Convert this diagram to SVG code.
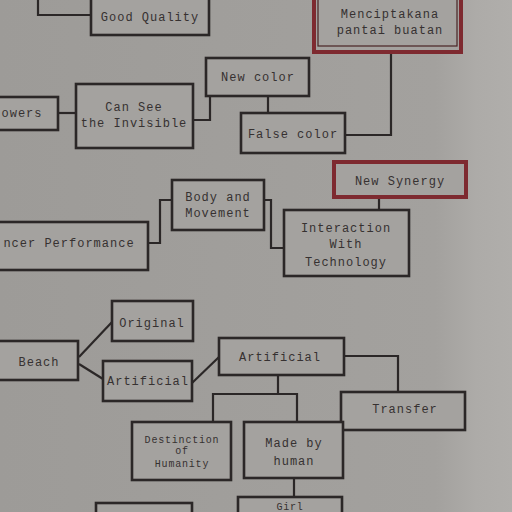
<svg xmlns="http://www.w3.org/2000/svg" width="512" height="512" viewBox="0 0 512 512">
<defs>
<linearGradient id="bg" x1="0" y1="0" x2="1" y2="0">
<stop offset="0" stop-color="#9d9b98"/>
<stop offset="0.85" stop-color="#a3a19e"/>
<stop offset="0.93" stop-color="#adaba8"/>
<stop offset="1" stop-color="#b0aeab"/>
</linearGradient>
<style>
.box{fill:#a4a29f;stroke:#2b2727;stroke-width:2.6}
.red{fill:#a4a29f;stroke:#7e2a30;stroke-width:4}
.redin{fill:none;stroke:#4a2325;stroke-width:1.2}
.t{font-family:"Liberation Mono","DejaVu Sans Mono",monospace;font-size:12px;letter-spacing:1px;fill:#363131;text-anchor:middle}
.s{font-size:10px;letter-spacing:0.8px}
.c{fill:none;stroke:#2b2727;stroke-width:2.2}
</style>
</defs>
<rect width="512" height="512" fill="url(#bg)"/>
<g id="connectors">
<path class="c" d="M38,0 V15 H91"/>
<path class="c" d="M58,113 H76"/>
<path class="c" d="M193,120 H210 V96"/>
<path class="c" d="M268,96 V113"/>
<path class="c" d="M391,52 V135 H345"/>
<path class="c" d="M379,197 V210"/>
<path class="c" d="M264,200 H271 V248 H284"/>
<path class="c" d="M148,243 H160 V200 H172"/>
<path class="c" d="M79,357 L112,322"/>
<path class="c" d="M79,364 L103,379"/>
<path class="c" d="M192,383 L219,357"/>
<path class="c" d="M344,356 H398 V392"/>
<path class="c" d="M278,375 V394 M213,422 V394 H297 V422"/>
<path class="c" d="M294,478 V497"/>
</g>
<g id="n-good-quality"><rect class="box" x="91" y="-4" width="118" height="39"/><text class="t" x="150" y="21">Good Quality</text></g>
<g id="n-menciptakana"><rect class="red" x="314" y="-6" width="147" height="58"/><rect class="redin" x="318" y="-4" width="139" height="50"/><text class="t" x="390" y="18">Menciptakana</text><text class="t" x="390" y="34">pantai buatan</text></g>
<g id="n-new-color"><rect class="box" x="206" y="58" width="103" height="38"/><text class="t" x="258" y="81">New color</text></g>
<g id="n-powers"><rect class="box" x="-6" y="97" width="64" height="33"/><text class="t" x="22" y="117">owers</text></g>
<g id="n-can-see"><rect class="box" x="76" y="84" width="117" height="64"/><text class="t" x="134" y="111">Can See</text><text class="t" x="134" y="127">the Invisible</text></g>
<g id="n-false-color"><rect class="box" x="241" y="113" width="104" height="40"/><text class="t" x="293" y="138">False color</text></g>
<g id="n-new-synergy"><rect class="red" x="334" y="162" width="132" height="35"/><text class="t" x="400" y="185">New Synergy</text></g>
<g id="n-body"><rect class="box" x="172" y="180" width="92" height="50"/><text class="t" x="218" y="201">Body and</text><text class="t" x="218" y="217">Movement</text></g>
<g id="n-interaction"><rect class="box" x="284" y="210" width="125" height="66"/><text class="t" x="346" y="232">Interaction</text><text class="t" x="346" y="248">With</text><text class="t" x="346" y="266">Technology</text></g>
<g id="n-dancer"><rect class="box" x="-6" y="222" width="154" height="48"/><text class="t" x="69" y="247">ncer Performance</text></g>
<g id="n-original"><rect class="box" x="112" y="301" width="81" height="40"/><text class="t" x="152" y="327">Original</text></g>
<g id="n-beach"><rect class="box" x="-6" y="341" width="84" height="39"/><text class="t" x="39" y="366">Beach</text></g>
<g id="n-artificial-1"><rect class="box" x="103" y="361" width="89" height="40"/><text class="t" x="148" y="385">Artificial</text></g>
<g id="n-artificial-2"><rect class="box" x="219" y="338" width="125" height="37"/><text class="t" x="280" y="361">Artificial</text></g>
<g id="n-transfer"><rect class="box" x="341" y="392" width="124" height="38"/><text class="t" x="405" y="413">Transfer</text></g>
<g id="n-destinction"><rect class="box" x="132" y="422" width="99" height="58"/><text class="t s" x="182" y="443">Destinction</text><text class="t s" x="182" y="454">of</text><text class="t s" x="182" y="467">Humanity</text></g>
<g id="n-made-by-human"><rect class="box" x="244" y="422" width="99" height="56"/><text class="t" x="294" y="447">Made by</text><text class="t" x="294" y="465">human</text></g>
<g id="n-bottom-left"><rect class="box" x="96" y="503" width="96" height="20"/></g>
<g id="n-girl"><rect class="box" x="238" y="497" width="104" height="26"/><text class="t s" x="290" y="510">Girl</text></g>
</svg>
